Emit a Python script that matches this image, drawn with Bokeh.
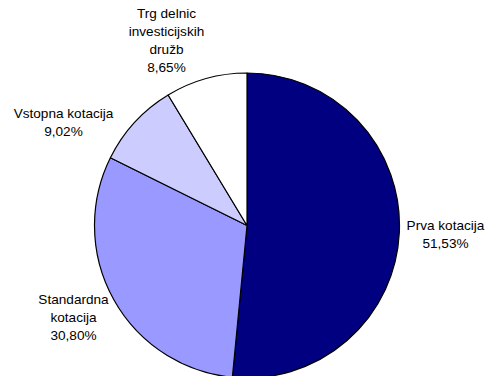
from math import pi
from bokeh.plotting import figure
from bokeh.models import Range1d, ColumnDataSource
from bokeh.core.properties import value
from bokeh.embed import file_html
from bokeh.resources import INLINE

categories = ["Prva kotacija", "Standardna\nkotacija", "Vstopna kotacija", "Trg delnic\ninvesticijskih\ndružb"]
shares = [51.53, 30.80, 9.02, 8.65]
colors = ["#000080", "#9999FF", "#CCCCFF", "#FFFFFF"]

W, H = 486, 376
p = figure(width=W, height=H, output_backend="svg", toolbar_location=None,
           x_range=Range1d(0, W), y_range=Range1d(0, H),
           min_border=0, outline_line_color=None)
p.axis.visible = False
p.grid.visible = False

total = sum(shares)
starts, ends = [], []
a = pi / 2
for s in shares:
    starts.append(a)
    a -= 2 * pi * s / total
    ends.append(a)

cx, cy, r = 246.5, 376 - 225, 152.5
src = ColumnDataSource(dict(start=starts, end=ends, color=colors))
p.wedge(x=cx, y=cy, radius=r, start_angle="start", end_angle="end",
        direction="clock", fill_color="color", line_color="black",
        line_width=1.2, source=src)

# label positions (page pixel coords of text block centers)
lab_pos = [(445, 234), (73, 317), (63, 122), (166, 40)]
labels = [f"{c}\n{s:.2f}".replace(".", ",") + "%" for c, s in zip(categories, shares)]
lsrc = ColumnDataSource(dict(x=[q[0] for q in lab_pos], y=[376 - q[1] for q in lab_pos], t=labels))
p.text(x="x", y="y", text="t", source=lsrc, text_align="center", text_baseline="middle",
       text_font=value("Liberation Sans"), text_font_size="13.6px", text_color="black",
       text_line_height=1.22)

open("out.html", "w").write(file_html(p, INLINE))
